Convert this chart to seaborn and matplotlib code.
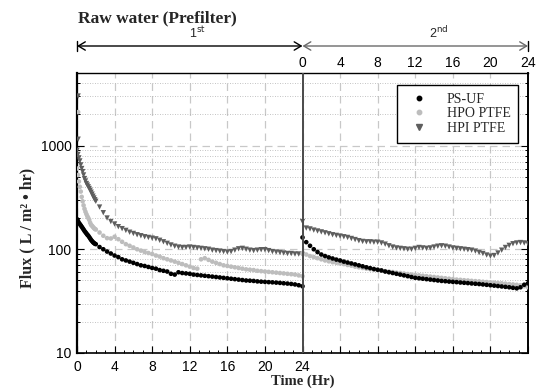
import matplotlib
matplotlib.use("Agg")
import matplotlib.pyplot as plt
import matplotlib.transforms as mtransforms
from matplotlib.lines import Line2D
from matplotlib.ticker import MultipleLocator, LogLocator, NullFormatter
import pandas as pd
import seaborn as sns

# ---------------- data ----------------
# sampling times (h): fine steps at the start of run 1, then 0.4 h
early_time = [round(0.1 * i, 1) for i in range(21)]          # 0.0 .. 2.0
late_time = [round(2.4 + 0.4 * i, 1) for i in range(55)]      # 2.4 .. 24.0
run_time = [round(0.4 * i, 1) for i in range(61)]             # 0.0 .. 24.0

# initial spikes at the very start of run 1
hpi_start_time = [0.12, 0.12]
hpi_start_flux = [3000, 1150]
hpo_start_time = [0.12]
hpo_start_flux = [2100]

psuf_run1_early = [195, 188, 180, 175, 170, 165, 160, 155, 150, 146,
                   142, 138, 135, 131, 127, 123, 120, 117, 115, 113, 112]
psuf_run1 = [105, 100, 95, 91,
             87, 84, 80, 78, 76, 74, 72, 70, 69, 67.5,
             66, 65, 63, 62, 61, 58, 57, 60, 59, 58.5,
             58, 57, 56.5, 56, 55.5, 55, 54.5, 54, 53.5, 53,
             52.5, 52, 51.5, 51, 50.5, 50, 49.8, 49.5, 49, 48.7,
             48.5, 48.2, 48, 47.7, 47.4, 47, 46.7, 46.3, 45.8, 45,
             44]
hpo_run1_early = [600, 520, 450, 400, 360, 320, 290, 265, 245, 230,
                  218, 208, 200, 192, 180, 172, 168, 164, 160, 157, 155]
hpo_run1 = [145, 135, 128, 127,
            132, 125, 118, 112, 108, 104, 100, 97, 94, 92,
            90, 87, 85, 82, 80, 78, 76, 74, 72, 70,
            68, 66, 65, 80, 82, 79, 76, 74, 72, 70,
            69, 68, 67, 66, 65, 64, 63.5, 63, 62, 61.5,
            61, 60.5, 60, 59.5, 59, 58.5, 58, 57.5, 57, 56,
            55]
hpi_run1_early = [900, 820, 760, 710, 650, 600, 560, 520, 480, 455,
                  430, 415, 400, 385, 370, 355, 340, 325, 312, 300, 290]
hpi_run1 = [255, 225, 200, 185,
            175, 165, 158, 152, 146, 142, 138, 135, 132, 130,
            128, 126, 122, 118, 114, 110, 107, 105, 104, 104,
            105, 104, 103, 102, 101, 100, 98, 97, 96, 95,
            94, 95, 98, 101, 102, 100, 98, 97, 98, 99,
            99, 97, 95, 94, 93, 92, 91, 91, 90, 90,
            89]

psuf_run2 = [130, 117, 108, 100, 94, 89, 86, 83.5, 81.5, 79.5,
             78, 76, 74.5, 73, 71.5, 70, 68.5, 67, 65.8, 64.5,
             63.5, 62.5, 61, 60, 59, 58, 57, 56, 55, 54,
             53, 52.5, 52, 51.5, 51, 50.5, 50, 49.5, 49.2, 48.8,
             48.5, 48.2, 47.8, 47.5, 47.2, 46.8, 46.5, 46.2, 45.8, 45.4,
             45, 44.6, 44.2, 43.8, 43.4, 43, 42.5, 42, 43, 45.5,
             47]
hpo_run2 = [92, 89, 86, 84, 82, 80, 78, 76.5, 75, 74,
            73, 72, 70.5, 69.5, 68, 67, 66, 65, 64.3, 63.5,
            63, 62.3, 61.5, 61, 60.3, 59.5, 59, 58.3, 57.7, 57,
            56.5, 56, 55.5, 55, 54.5, 54, 53.5, 53, 52.5, 52,
            51.5, 51, 50.7, 50.3, 50, 49.6, 49.3, 49, 48.6, 48.3,
            48, 47.6, 47.3, 47, 46.6, 46.2, 45.8, 45.4, 45, 44,
            43]
hpi_run2 = [185, 160, 157, 153, 150, 147, 144, 141, 138, 136,
            134, 132, 130, 127, 124, 121, 119, 118, 118, 117,
            117, 115, 112, 108, 105, 103, 102, 101, 100, 100,
            102, 104, 103, 102, 103, 105, 107, 108, 107, 105,
            103, 102, 101, 100, 99, 98, 96, 93, 91, 88,
            86, 87, 92, 98, 104, 109, 113, 115, 116, 115,
            113]

run_length = 24
membranes = ["PS-UF", "HPO PTFE", "HPI PTFE"]
colors = {"PS-UF": "#000000", "HPO PTFE": "#bdbdbd", "HPI PTFE": "#5e5e5e"}
markers = {"PS-UF": "o", "HPO PTFE": "o", "HPI PTFE": "v"}
sizes = {"PS-UF": 11, "HPO PTFE": 11, "HPI PTFE": 15}

top_labels = ["0", "4", "8", "12", "16", "20", "24"]
bottom_labels = ["0", "4", "8", "12", "16", "20", "24"]

# ---------------- build long table ----------------
rows = []
def add(name, times, vals, offset):
    for t, v in zip(times, vals):
        rows.append({"time": t + offset, "flux": v, "membrane": name})

# draw order: HPI, HPO, PS-UF (PS-UF on top)
add("HPI PTFE", hpi_start_time, hpi_start_flux, 0)
add("HPI PTFE", early_time, hpi_run1_early, 0)
add("HPI PTFE", late_time, hpi_run1, 0)
add("HPI PTFE", run_time, hpi_run2, run_length)
add("HPO PTFE", hpo_start_time, hpo_start_flux, 0)
add("HPO PTFE", early_time, hpo_run1_early, 0)
add("HPO PTFE", late_time, hpo_run1, 0)
add("HPO PTFE", run_time, hpo_run2, run_length)
add("PS-UF", early_time, psuf_run1_early, 0)
add("PS-UF", late_time, psuf_run1, 0)
add("PS-UF", run_time, psuf_run2, run_length)
df = pd.DataFrame(rows)

# ---------------- style ----------------
sns.set_theme(style="white")
plt.rcParams["font.family"] = ["Liberation Sans", "DejaVu Sans"]
serif = ["Liberation Serif", "DejaVu Serif"]

fig = plt.figure(figsize=(5.37, 3.92), dpi=100)
ax = fig.add_axes([77 / 537, 1 - 353 / 392, 451 / 537, 280 / 392])

sns.scatterplot(data=df, x="time", y="flux", hue="membrane", style="membrane",
                size="membrane", palette=colors, markers=markers, sizes=sizes,
                linewidth=0, legend=False, ax=ax, zorder=3)

ax.set_yscale("log")
ax.set_xlim(0, 2 * run_length)
ax.set_ylim(10, 5000)

ax.axvline(run_length, color="#4a4a4a", lw=1.4, zorder=4)

# x ticks
ax.set_xticks(list(range(0, 2 * run_length + 1, 4)))
ax.set_xticklabels(bottom_labels + [""] * 6)
ax.xaxis.set_minor_locator(MultipleLocator(1))
# y ticks
ax.set_yticks([10, 100, 1000])
ax.set_yticklabels(["10", "100", "1000"])
ax.yaxis.set_minor_locator(LogLocator(base=10, subs=[2, 3, 4, 5, 6, 7, 8, 9]))
ax.yaxis.set_minor_formatter(NullFormatter())

ax.tick_params(which="both", direction="in", top=True, right=True,
               bottom=True, left=True, colors="black", labelsize=10)
ax.tick_params(which="major", length=5, width=0.8)
ax.tick_params(axis="x", which="major", pad=5)
ax.tick_params(axis="y", which="major", pad=4)
ax.tick_params(which="minor", length=2.5, width=0.7)

ax.grid(which="major", axis="both", ls=(0, (6, 4)), color="#c8c8c8", lw=0.9, zorder=0)
ax.grid(which="minor", axis="y", ls=(0, (1, 2)), color="#b0b0b0", lw=0.6, zorder=0)
ax.set_axisbelow(True)

for side in ["left", "right", "top", "bottom"]:
    ax.spines[side].set_visible(True)
    ax.spines[side].set_color("black")
ax.spines["left"].set_linewidth(1.6)
ax.spines["right"].set_linewidth(1.4)
ax.spines["top"].set_linewidth(1.0)
ax.spines["bottom"].set_linewidth(1.2)
ax.set_xlabel("")
ax.set_ylabel("")

# top axis for run 2 times
ax2 = ax.twiny()
ax2.set_xlim(ax.get_xlim())
ax2.set_xticks(list(range(run_length, 2 * run_length + 1, 4)))
ax2.set_xticklabels(top_labels)
ax2.tick_params(axis="x", length=0, pad=2, labelsize=10, colors="black")
for s in ax2.spines.values():
    s.set_visible(False)
ax2.grid(False)

# legend
handles = [Line2D([], [], ls="none", marker=markers[m], color=colors[m],
                  markersize=3.2 if markers[m] == "o" else 3.8) for m in membranes]
leg = ax.legend(handles, membranes, loc="upper right", bbox_to_anchor=(0.978, 0.957),
                frameon=True, fancybox=False, framealpha=1, edgecolor="black",
                prop={"family": serif, "size": 10}, handlelength=2.0,
                handletextpad=1.0, borderpad=0.55, labelspacing=0.12, borderaxespad=0)
leg.get_frame().set_linewidth(1.0)

# run arrows above the plot
trans = mtransforms.blended_transform_factory(ax.transData, fig.transFigure)
ya = 1 - 46 / 392
ax.annotate("", xy=(run_length, ya), xytext=(0, ya), xycoords=trans, textcoords=trans,
            arrowprops=dict(arrowstyle="<->,head_length=0.5,head_width=0.3",
                            color="black", lw=1.0, shrinkA=0, shrinkB=0,
                            mutation_scale=10), annotation_clip=False)
ax.annotate("", xy=(2 * run_length, ya), xytext=(run_length, ya), xycoords=trans,
            textcoords=trans,
            arrowprops=dict(arrowstyle="<->,head_length=0.5,head_width=0.3",
                            color="#6a6a6a", lw=1.0, shrinkA=0, shrinkB=0,
                            mutation_scale=10), annotation_clip=False)
for xb in [0, 2 * run_length]:
    ax.plot([xb, xb], [ya - 0.014, ya + 0.014], transform=trans, color="black",
            lw=1.0, clip_on=False)
ax.text(12.8, 1 - 33 / 392, "1$^{\\mathrm{st}}$", transform=trans, ha="center",
        va="center", fontsize=9)
ax.text(38.5, 1 - 33 / 392, "2$^{\\mathrm{nd}}$", transform=trans, ha="center",
        va="center", fontsize=9)

fig.text(78 / 537, 1 - 18 / 392, "Raw water (Prefilter)", ha="left", va="center",
         family=serif, fontweight="bold", fontsize=12.5)
fig.text(302.5 / 537, 1 - 381 / 392, "Time (Hr)", ha="center", va="center",
         family=serif, fontweight="bold", fontsize=10.5)
fig.text(27 / 537, 1 - 228 / 392, "Flux ( L / m\u00b2 \u2022 hr)", ha="center",
         va="center", rotation=90, family=serif, fontweight="bold", fontsize=11.5)

fig.savefig("out.png", dpi=100)
